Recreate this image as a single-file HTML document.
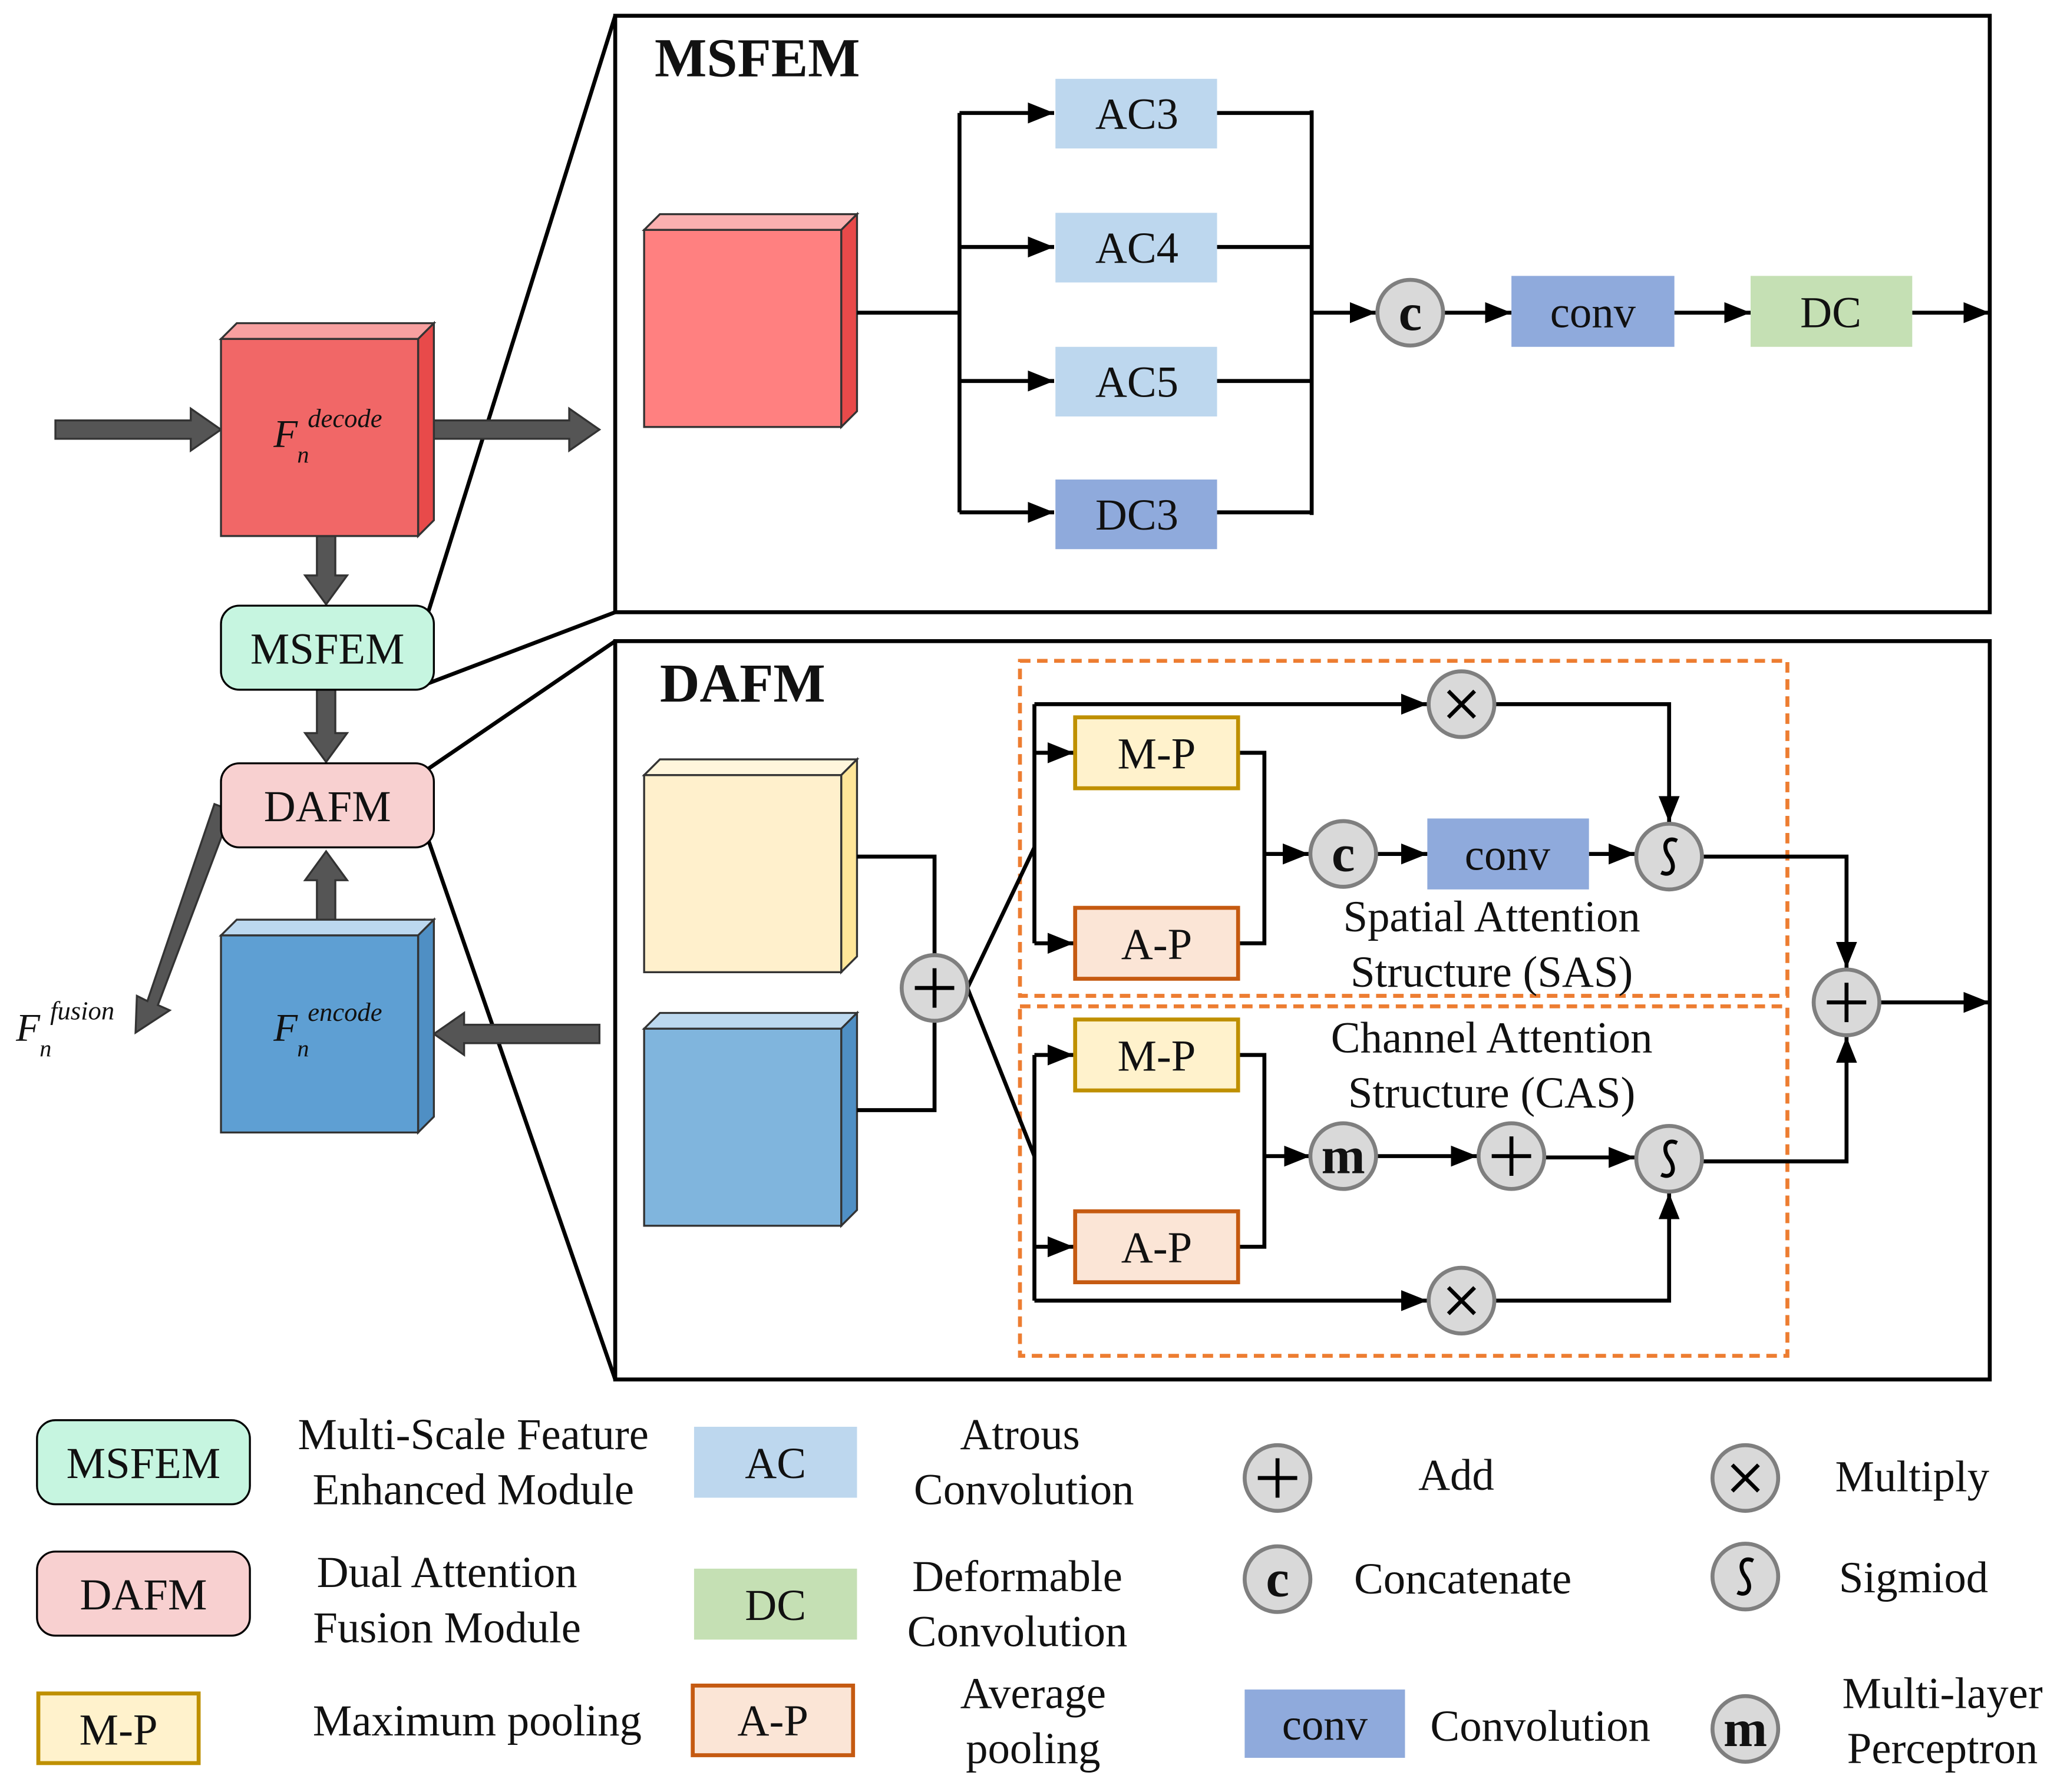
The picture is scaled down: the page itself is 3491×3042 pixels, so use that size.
<!DOCTYPE html>
<html><head><meta charset="utf-8"><style>
html,body{margin:0;padding:0;background:#fff;}
svg{display:block;}
text{font-family:"Liberation Serif",serif;fill:#111;}
</style></head><body>
<svg width="3491" height="3042" viewBox="0 0 1565 1364" xmlns="http://www.w3.org/2000/svg">
<defs>
<marker id="ab" markerWidth="20" markerHeight="16" refX="20" refY="8" orient="auto" markerUnits="userSpaceOnUse" viewBox="0 0 20 16">
<path d="M0,0 L20,8 L0,16 z" fill="#000"/></marker>
</defs>
<rect width="1565" height="1364" fill="#fff"/>

<g stroke="#000" stroke-width="3" fill="none">
<line x1="326" y1="465" x2="468" y2="12"/>
<line x1="326" y1="520" x2="468" y2="466"/>
<line x1="326" y1="585" x2="468" y2="488"/>
<line x1="326" y1="640" x2="468" y2="1050"/>
</g>

<g fill="#555" stroke="#333" stroke-width="1.5">
<polygon points="42,320 145,320 145,311 168,327 145,343 145,334 42,334"/>
<polygon points="330,320 433,320 433,311 456,327 433,343 433,334 330,334"/>
<polygon points="456,780 353,780 353,771 330,787 353,803 353,794 456,794"/>
<polygon points="241,408 255,408 255,438 264,438 248,460 232,438 241,438"/>
<polygon points="241,525 255,525 255,558 264,558 248,580 232,558 241,558"/>
<polygon points="241,700 255,700 255,670 264,670 248,648 232,670 241,670"/>
<polygon points="163,612 176,617 120,765 129,769 103,786 104,758 112,762"/>
</g>

<g stroke="#333" stroke-width="1.5">
<polygon points="168,258 180,246 330,246 318,258" fill="#f8a0a0"/>
<polygon points="318,258 330,246 330,396 318,408" fill="#e84a4a"/>
<rect x="168" y="258" width="150" height="150" fill="#f16767"/>
<polygon points="168,712 180,700 330,700 318,712" fill="#bcd8ef"/>
<polygon points="318,712 330,700 330,850 318,862" fill="#4f8fc4"/>
<rect x="168" y="712" width="150" height="150" fill="#5e9fd3"/>
</g>
<text x="208" y="340" font-size="30" font-style="italic">F</text>
<text x="226" y="352" font-size="18" font-style="italic">n</text>
<text x="234" y="325" font-size="20" font-style="italic">decode</text>
<text x="208" y="792" font-size="30" font-style="italic">F</text>
<text x="226" y="804" font-size="18" font-style="italic">n</text>
<text x="234" y="777" font-size="20" font-style="italic">encode</text>
<text x="12" y="792" font-size="30" font-style="italic">F</text>
<text x="30" y="804" font-size="18" font-style="italic">n</text>
<text x="38" y="776" font-size="20" font-style="italic">fusion</text>

<rect x="168" y="461" width="162" height="64" rx="14" fill="#c6f5e0" stroke="#000" stroke-width="1.5"/>
<text x="249" y="505" font-size="33.5" text-anchor="middle">MSFEM</text>
<rect x="168" y="581" width="162" height="64" rx="14" fill="#f8d0d0" stroke="#000" stroke-width="1.5"/>
<text x="249" y="625" font-size="33.5" text-anchor="middle">DAFM</text>

<rect x="468" y="12" width="1046" height="454" fill="none" stroke="#000" stroke-width="3"/>
<text x="498" y="58" font-size="42" font-weight="bold">MSFEM</text>
<g stroke="#333" stroke-width="1.5">
<polygon points="490,175 502,163 652,163 640,175" fill="#fbb0b0"/>
<polygon points="640,175 652,163 652,313 640,325" fill="#e84a4a"/>
<rect x="490" y="175" width="150" height="150" fill="#ff8080"/>
</g>
<g stroke="#000" stroke-width="3" fill="none">
<line x1="652" y1="238" x2="730" y2="238"/>
<line x1="730" y1="86" x2="730" y2="390"/>
<line x1="730" y1="86" x2="802" y2="86" marker-end="url(#ab)"/>
<line x1="730" y1="188" x2="802" y2="188" marker-end="url(#ab)"/>
<line x1="730" y1="290" x2="802" y2="290" marker-end="url(#ab)"/>
<line x1="730" y1="390" x2="802" y2="390" marker-end="url(#ab)"/>
<line x1="926" y1="86" x2="998" y2="86"/>
<line x1="926" y1="188" x2="998" y2="188"/>
<line x1="926" y1="290" x2="998" y2="290"/>
<line x1="926" y1="390" x2="998" y2="390"/>
<line x1="998" y1="84" x2="998" y2="392"/>
<line x1="998" y1="238" x2="1047" y2="238" marker-end="url(#ab)"/>
<line x1="1099" y1="238" x2="1150" y2="238" marker-end="url(#ab)"/>
<line x1="1274" y1="238" x2="1332" y2="238" marker-end="url(#ab)"/>
<line x1="1455" y1="238" x2="1514" y2="238" marker-end="url(#ab)"/>
</g>
<g font-size="33.5" text-anchor="middle">
<rect x="803" y="60" width="123" height="53" fill="#bdd7ee"/><text x="865" y="98">AC3</text>
<rect x="803" y="162" width="123" height="53" fill="#bdd7ee"/><text x="865" y="200">AC4</text>
<rect x="803" y="264" width="123" height="53" fill="#bdd7ee"/><text x="865" y="302">AC5</text>
<rect x="803" y="365" width="123" height="53" fill="#8faadc"/><text x="865" y="403">DC3</text>
<rect x="1150" y="210" width="124" height="54" fill="#8faadc"/><text x="1212" y="249">conv</text>
<rect x="1332" y="210" width="123" height="54" fill="#c5e0b4"/><text x="1393" y="249">DC</text>
</g>

<rect x="468" y="488" width="1046" height="562" fill="none" stroke="#000" stroke-width="3"/>
<text x="502" y="534" font-size="42" font-weight="bold">DAFM</text>
<g stroke="#333" stroke-width="1.5">
<polygon points="490,590 502,578 652,578 640,590" fill="#fff6dc"/>
<polygon points="640,590 652,578 652,728 640,740" fill="#ffe699"/>
<rect x="490" y="590" width="150" height="150" fill="#fff0cc"/>
<polygon points="490,783 502,771 652,771 640,783" fill="#bcd8ef"/>
<polygon points="640,783 652,771 652,921 640,933" fill="#4f8fc4"/>
<rect x="490" y="783" width="150" height="150" fill="#80b5dd"/>
</g>
<rect x="776" y="503" width="584" height="255" fill="none" stroke="#ed7d31" stroke-width="3" stroke-dasharray="8,5"/>
<rect x="776" y="766" width="584" height="266" fill="none" stroke="#ed7d31" stroke-width="3" stroke-dasharray="8,5"/>
<g stroke="#000" stroke-width="3" fill="none">
<polyline points="652,652 711,652 711,727"/>
<polyline points="652,845 711,845 711,777"/>
<line x1="736" y1="752" x2="787" y2="645"/>
<line x1="736" y1="752" x2="787" y2="880"/>
<line x1="787" y1="536" x2="787" y2="718"/>
<line x1="787" y1="536" x2="1086" y2="536" marker-end="url(#ab)"/>
<line x1="787" y1="573" x2="817" y2="573" marker-end="url(#ab)"/>
<line x1="787" y1="718" x2="817" y2="718" marker-end="url(#ab)"/>
<polyline points="942,573 962,573 962,718 942,718"/>
<line x1="962" y1="650" x2="996" y2="650" marker-end="url(#ab)"/>
<line x1="1047" y1="650" x2="1086" y2="650" marker-end="url(#ab)"/>
<line x1="1209" y1="650" x2="1244" y2="650" marker-end="url(#ab)"/>
<polyline points="1138,536 1270,536 1270,626" marker-end="url(#ab)"/>
<polyline points="1296,652 1405,652 1405,737" marker-end="url(#ab)"/>
<line x1="1430" y1="763" x2="1514" y2="763" marker-end="url(#ab)"/>
<line x1="787" y1="803" x2="787" y2="990"/>
<line x1="787" y1="803" x2="817" y2="803" marker-end="url(#ab)"/>
<line x1="787" y1="949" x2="817" y2="949" marker-end="url(#ab)"/>
<line x1="787" y1="990" x2="1086" y2="990" marker-end="url(#ab)"/>
<polyline points="942,803 962,803 962,949 942,949"/>
<line x1="962" y1="880" x2="997" y2="880" marker-end="url(#ab)"/>
<line x1="1047" y1="880" x2="1124" y2="880" marker-end="url(#ab)"/>
<line x1="1175" y1="881" x2="1244" y2="881" marker-end="url(#ab)"/>
<polyline points="1138,990 1270,990 1270,908" marker-end="url(#ab)"/>
<polyline points="1296,884 1405,884 1405,789" marker-end="url(#ab)"/>
</g>
<g stroke-width="3">
<rect x="818" y="546" width="124" height="54" fill="#fff2cc" stroke="#bf9000"/>
<rect x="818" y="691" width="124" height="54" fill="#fbe5d6" stroke="#c55a11"/>
<rect x="818" y="776" width="124" height="54" fill="#fff2cc" stroke="#bf9000"/>
<rect x="818" y="922" width="124" height="54" fill="#fbe5d6" stroke="#c55a11"/>
</g>
<g font-size="33.5" text-anchor="middle">
<text x="880" y="585">M-P</text>
<text x="880" y="730">A-P</text>
<text x="880" y="815">M-P</text>
<text x="880" y="961">A-P</text>
<rect x="1086" y="623" width="123" height="54" fill="#8faadc"/><text x="1147" y="662">conv</text>
<text x="1135" y="709">Spatial Attention</text>
<text x="1135" y="751">Structure (SAS)</text>
<text x="1135" y="801">Channel Attention</text>
<text x="1135" y="843">Structure (CAS)</text>
</g>

<g fill="#d9d9d9" stroke="#7f7f7f" stroke-width="3">
<circle cx="1073" cy="238" r="25"/>
<circle cx="711" cy="752" r="25"/>
<circle cx="1112" cy="536" r="25"/>
<circle cx="1022" cy="650" r="25"/>
<circle cx="1270" cy="652" r="25"/>
<circle cx="1405" cy="763" r="25"/>
<circle cx="1022" cy="880" r="25"/>
<circle cx="1150" cy="880" r="25"/>
<circle cx="1270" cy="882" r="25"/>
<circle cx="1112" cy="990" r="25"/>
<circle cx="972" cy="1125" r="25"/>
<circle cx="972" cy="1202" r="25"/>
<circle cx="1328" cy="1125" r="25"/>
<circle cx="1328" cy="1200" r="25"/>
<circle cx="1328" cy="1316" r="25"/>
</g>
<g stroke="#000" stroke-width="3" fill="none">
<path d="M711,737 V767 M696,752 H726"/>
<path d="M1405,748 V778 M1390,763 H1420"/>
<path d="M1150,865 V895 M1135,880 H1165"/>
<path d="M972,1110 V1140 M957,1125 H987"/>
<path d="M1102,526 L1122,546 M1122,526 L1102,546"/>
<path d="M1102,980 L1122,1000 M1122,980 L1102,1000"/>
<path d="M1318,1115 L1338,1135 M1338,1115 L1318,1135"/>
<path d="M1276,640 C1268,636 1264,644 1270,652 C1276,660 1272,668 1264,664"/>
<path d="M1276,870 C1268,866 1264,874 1270,882 C1276,890 1272,898 1264,894"/>
<path d="M1334,1188 C1326,1184 1322,1192 1328,1200 C1334,1208 1330,1216 1322,1212"/>
</g>
<g font-size="40" font-weight="bold" text-anchor="middle">
<text x="1073" y="251">c</text>
<text x="1022" y="663">c</text>
<text x="972" y="1215">c</text>
<text x="1022" y="893">m</text>
<text x="1328" y="1329">m</text>
</g>

<rect x="28" y="1081" width="162" height="64" rx="14" fill="#c6f5e0" stroke="#000" stroke-width="1.5"/>
<rect x="28" y="1181" width="162" height="64" rx="14" fill="#f8d0d0" stroke="#000" stroke-width="1.5"/>
<rect x="29" y="1289" width="122" height="53" fill="#fff2cc" stroke="#bf9000" stroke-width="3"/>
<rect x="528" y="1086" width="124" height="54" fill="#bdd7ee"/>
<rect x="528" y="1194" width="124" height="54" fill="#c5e0b4"/>
<rect x="527" y="1283" width="122" height="53" fill="#fbe5d6" stroke="#c55a11" stroke-width="3"/>
<rect x="947" y="1286" width="122" height="52" fill="#8faadc"/>
<g font-size="33.5" text-anchor="middle">
<text x="109" y="1125">MSFEM</text>
<text x="109" y="1225">DAFM</text>
<text x="90" y="1328">M-P</text>
<text x="590" y="1125">AC</text>
<text x="590" y="1233">DC</text>
<text x="588" y="1321">A-P</text>
<text x="1008" y="1324">conv</text>
<text x="360" y="1103">Multi-Scale Feature</text>
<text x="360" y="1145">Enhanced Module</text>
<text x="340" y="1208">Dual Attention</text>
<text x="340" y="1250">Fusion Module</text>
<text x="363" y="1321">Maximum pooling</text>
<text x="776" y="1103">Atrous</text>
<text x="779" y="1145">Convolution</text>
<text x="774" y="1211">Deformable</text>
<text x="774" y="1253">Convolution</text>
<text x="786" y="1300">Average</text>
<text x="786" y="1342">pooling</text>
<text x="1108" y="1134">Add</text>
<text x="1113" y="1213">Concatenate</text>
<text x="1172" y="1325">Convolution</text>
<text x="1455" y="1135">Multiply</text>
<text x="1456" y="1212">Sigmiod</text>
<text x="1478" y="1300">Multi-layer</text>
<text x="1478" y="1342">Perceptron</text>
</g>
</svg>
</body></html>
